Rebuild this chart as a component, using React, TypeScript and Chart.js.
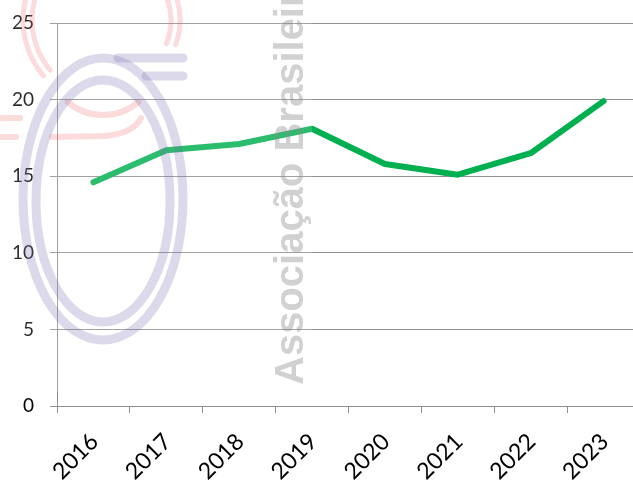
import React, { useEffect, useRef } from "react";
import { Chart, registerables } from "chart.js";

Chart.register(...registerables);

const categories = ["2016", "2017", "2018", "2019", "2020", "2021", "2022", "2023"];
const values = [14.6, 16.7, 17.1, 18.1, 15.8, 15.1, 16.5, 19.9];
const yMin = 0;
const yMax = 25;
const yStep = 5;
const watermarkText = "Associação Brasileira de Proteína Animal";

const GRID = "#8f8f8f";
const FONT = "Lato, Carlito, 'Liberation Sans', sans-serif";

const overlayPlugin = {
  id: "watermark",
  afterDraw(chart: any) {
    const ctx = chart.ctx as CanvasRenderingContext2D;
    ctx.save();
    // faint white veil of the watermark image
    ctx.fillStyle = "rgba(255,255,255,0.17)";
    ctx.fillRect(0, 0, 312, 392);

    // pink arcs
    ctx.strokeStyle = "rgba(235,90,90,0.22)";
    ctx.lineCap = "round";
    const arc = (cx: number, cy: number, rx: number, ry: number, a0: number, a1: number) => {
      ctx.beginPath();
      ctx.ellipse(cx, cy, rx, ry, 0, (a0 * Math.PI) / 180, (a1 * Math.PI) / 180);
      ctx.stroke();
    };
    ctx.lineWidth = 5;
    arc(110, 20, 87, 87, 140, 196);
    arc(110, 20, 78, 78, 140, 196);
    arc(108, 20, 72, 72, -20, 20);
    arc(108, 20, 63, 63, -20, 22);
    ctx.lineWidth = 6;
    arc(103, 60, 55, 55, 50, 130);
    ctx.beginPath();
    ctx.moveTo(52, 137);
    ctx.lineTo(105, 136);
    ctx.quadraticCurveTo(134, 133, 141, 118);
    ctx.stroke();
    ctx.beginPath();
    ctx.moveTo(2, 118);
    ctx.lineTo(20, 118);
    ctx.moveTo(2, 137);
    ctx.lineTo(16, 137);
    ctx.stroke();

    // lavender logo
    ctx.strokeStyle = "rgba(120,110,175,0.26)";
    ctx.lineWidth = 9;
    arc(103, 199, 80, 141, 0, 360);
    arc(103, 201, 67, 121, 0, 360);
    ctx.beginPath();
    ctx.moveTo(118, 58);
    ctx.lineTo(183, 58);
    ctx.moveTo(146, 76);
    ctx.lineTo(183, 76);
    ctx.stroke();

    // watermark text
    ctx.translate(303, 385);
    ctx.rotate(-Math.PI / 2);
    ctx.font = "bold 40px 'Liberation Sans', Arial, sans-serif";
    ctx.fillStyle = "rgba(140,140,140,0.4)";
    ctx.textBaseline = "alphabetic";
    ctx.textAlign = "left";
    ctx.fillText(watermarkText, 0, 0);
    ctx.restore();
  },
};

export default function App() {
  const ref = useRef<HTMLCanvasElement | null>(null);

  useEffect(() => {
    if (!ref.current) return;
    const chart = new Chart(ref.current, {
      type: "line",
      data: {
        labels: categories,
        datasets: [
          {
            data: values,
            borderColor: "#00B050",
            backgroundColor: "#00B050",
            borderWidth: 6,
            pointRadius: 0,
            tension: 0,
            borderCapStyle: "round",
            borderJoinStyle: "round",
          },
        ],
      },
      options: {
        animation: false,
        responsive: false,
        devicePixelRatio: 1,
        layout: { padding: { top: 23, right: 0, left: 0, bottom: 0 } },
        plugins: {
          legend: { display: false },
          title: { display: false },
          tooltip: { enabled: false },
        },
        scales: {
          x: {
            type: "category",
            offset: true,
            grid: {
              offset: true,
              drawOnChartArea: false,
              drawTicks: true,
              tickLength: 7,
              color: GRID,
            },
            border: { color: GRID },
            ticks: {
              minRotation: 45,
              maxRotation: 45,
              autoSkip: false,
              padding: 15,
              labelOffset: 1,
              color: "#000",
              font: { family: FONT, size: 23 },
            },
            afterFit: (s: any) => {
              s.height = 80;
              s.paddingTop = 0;
            },
          },
          y: {
            min: yMin,
            max: yMax,
            ticks: {
              stepSize: yStep,
              padding: 16,
              color: "#000",
              font: { family: FONT, size: 19 },
            },
            grid: { color: GRID, tickLength: 7 },
            border: { color: GRID },
            afterFit: (s: any) => {
              s.width = 57;
              s.paddingTop = 0;
              s.paddingBottom = 0;
            },
          },
        },
      },
      plugins: [overlayPlugin],
    });
    return () => chart.destroy();
  }, []);

  return (
    <div
      style={{
        position: "fixed",
        left: 0,
        top: 0,
        width: 633,
        height: 486,
        overflow: "hidden",
        background: "#fff",
      }}
    >
      <canvas ref={ref} width={640} height={486} style={{ width: 640, height: 486, display: "block" }} />
    </div>
  );
}
